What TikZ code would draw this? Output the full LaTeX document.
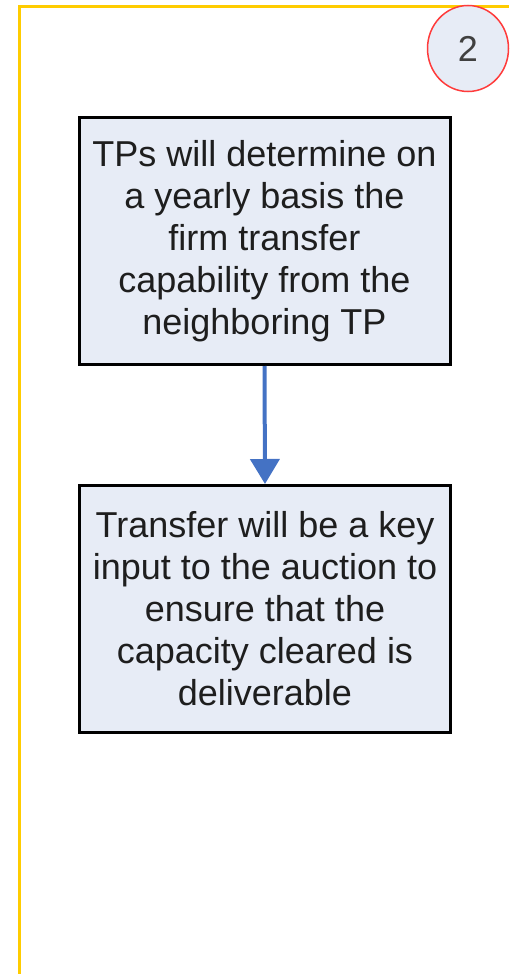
\documentclass[tikz,border=0pt]{standalone}
\usepackage{fontspec}
\setmainfont{Liberation Sans}
\usetikzlibrary{arrows.meta}
\definecolor{frameyellow}{HTML}{FFCC00}
\definecolor{boxfill}{HTML}{E7ECF6}
\definecolor{arrowblue}{HTML}{4472C4}
\definecolor{circred}{HTML}{FF3B3B}
\definecolor{txt}{HTML}{1E1E1E}
\tikzset{
  stepbox/.style={draw=black, line width=3pt, fill=boxfill, minimum width=371pt,
    minimum height=247pt, align=center, text=txt, inner sep=0pt,
    font=\fontsize{36}{42}\selectfont},
  flow/.style={draw=arrowblue, line width=4pt, -{Triangle[width=29pt,length=25pt]}},
  framestyle/.style={draw=frameyellow, line width=3.5pt},
  badgering/.style={draw=circred, line width=1.5pt, fill=boxfill},
}
\begin{document}
\begin{tikzpicture}[x=1pt,y=-1pt]
\useasboundingbox (0,0) rectangle (509,974);
% frame
\draw[framestyle] (19.5,974) -- (19.5,6.5) -- (509,6.5);
% badge
\path[badgering] (468,48.5) ellipse [x radius=40.5pt, y radius=43pt];
\node[text=black!75, font=\fontsize{36}{40}\selectfont] (badge) at (468,48.5) {2};
% boxes
\node[stepbox] (b1) at (264.5,241) {TPs will determine on\\a yearly basis the\\firm transfer\\capability from the\\neighboring TP};
\node[stepbox] (b2) at (265,609) {Transfer will be a key\\input to the auction to\\ensure that the\\capacity cleared is\\deliverable};
\draw[flow] (b1.south) -- (b2.north);
\end{tikzpicture}
\end{document}
